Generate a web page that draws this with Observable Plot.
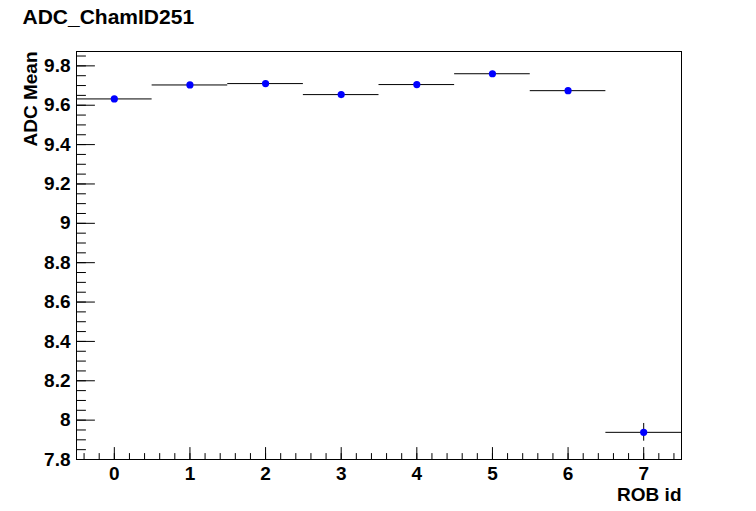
<!DOCTYPE html>
<html>
<head>
<meta charset="utf-8">
<script src="https://cdn.jsdelivr.net/npm/d3@7"></script>
<script src="https://cdn.jsdelivr.net/npm/@observablehq/plot@0.6"></script>
<style>
  html, body { margin: 0; padding: 0; background: #fff; }
  #chart svg { display: block; }
</style>
</head>
<body>
<div id="chart"></div>
<script>
const chartTitle = "ADC_ChamID251";
const xLabel = "ROB id";
const yLabel = "ADC Mean";
const robIds = [0, 1, 2, 3, 4, 5, 6, 7];
const adcMean = [9.632, 9.703, 9.710, 9.654, 9.705, 9.760, 9.674, 7.938];
const adcErr = [0.012, 0.012, 0.012, 0.012, 0.012, 0.012, 0.012, 0.045];
const binHalfWidth = 0.5;
const xMajorTicks = [0, 1, 2, 3, 4, 5, 6, 7];
const xMinorTicks = d3.range(-4, 75, 2).map(v => v / 10);
const yMajorTicks = [7.8, 8.0, 8.2, 8.4, 8.6, 8.8, 9.0, 9.2, 9.4, 9.6, 9.8];
const yMinorTicks = d3.range(156, 198, 1).map(v => v / 20);

const data = robIds.map((id, i) => ({id, mean: adcMean[i], err: adcErr[i]}));
const font = "'Liberation Sans', Arial, Helvetica, sans-serif";

// plain line shape for tick vectors (no arrow head)
const lineShape = {
  draw(context, l) {
    context.moveTo(0, 0);
    context.lineTo(0, -l);
  }
};

const chart = Plot.plot({
  width: 756,
  height: 511,
  marginLeft: 76,
  marginRight: 75,
  marginTop: 51,
  marginBottom: 52,
  style: {fontFamily: font, fontWeight: "bold", fontSize: "19px", background: "#fff", color: "#000"},
  x: {domain: [-0.5, 7.5]},
  y: {domain: [7.8, 9.873]},
  marks: [
    Plot.axisX({ticks: xMajorTicks, tickSize: 0, tickPadding: 7, tickFormat: d => String(d), label: null, fontSize: 19, fontWeight: "bold"}),
    Plot.axisY({ticks: yMajorTicks, tickSize: 0, tickPadding: 6, tickFormat: d => String(+d.toFixed(1)), label: null, fontSize: 19, fontWeight: "bold"}),
    Plot.vector(yMinorTicks, {y: d => d, frameAnchor: "left", length: 9, rotate: 90, anchor: "start", shape: lineShape, stroke: "black", strokeWidth: 1}),
    Plot.vector(yMajorTicks, {y: d => d, frameAnchor: "left", length: 18, rotate: 90, anchor: "start", shape: lineShape, stroke: "black", strokeWidth: 1}),
    Plot.vector(xMinorTicks, {x: d => d, frameAnchor: "bottom", length: 6, rotate: 0, anchor: "start", shape: lineShape, stroke: "black", strokeWidth: 1}),
    Plot.vector(xMajorTicks, {x: d => d, frameAnchor: "bottom", length: 12, rotate: 0, anchor: "start", shape: lineShape, stroke: "black", strokeWidth: 1}),
    Plot.ruleY(data, {y: "mean", x1: d => d.id - binHalfWidth, x2: d => d.id + binHalfWidth, stroke: "black", strokeWidth: 1}),
    Plot.ruleX(data, {x: "id", y1: d => d.mean - d.err, y2: d => d.mean + d.err, stroke: "black", strokeWidth: 1}),
    Plot.dot(data, {x: "id", y: "mean", r: 3.6, fill: "#0000ff", stroke: null}),
    Plot.frame({stroke: "black", strokeWidth: 1}),
    Plot.text([chartTitle], {frameAnchor: "top-left", dx: -54, dy: -34, textAnchor: "start", lineAnchor: "middle", fontSize: 21, fontWeight: "bold", fill: "black"}),
    Plot.text([yLabel], {frameAnchor: "top-left", dx: -46, dy: 0, rotate: -90, textAnchor: "end", lineAnchor: "middle", fontSize: 19, fontWeight: "bold", fill: "black"}),
    Plot.text([xLabel], {frameAnchor: "bottom-right", dx: 0, dy: 35, textAnchor: "end", lineAnchor: "middle", fontSize: 19, fontWeight: "bold", fill: "black"})
  ]
});
document.getElementById("chart").appendChild(chart);
</script>
</body>
</html>
